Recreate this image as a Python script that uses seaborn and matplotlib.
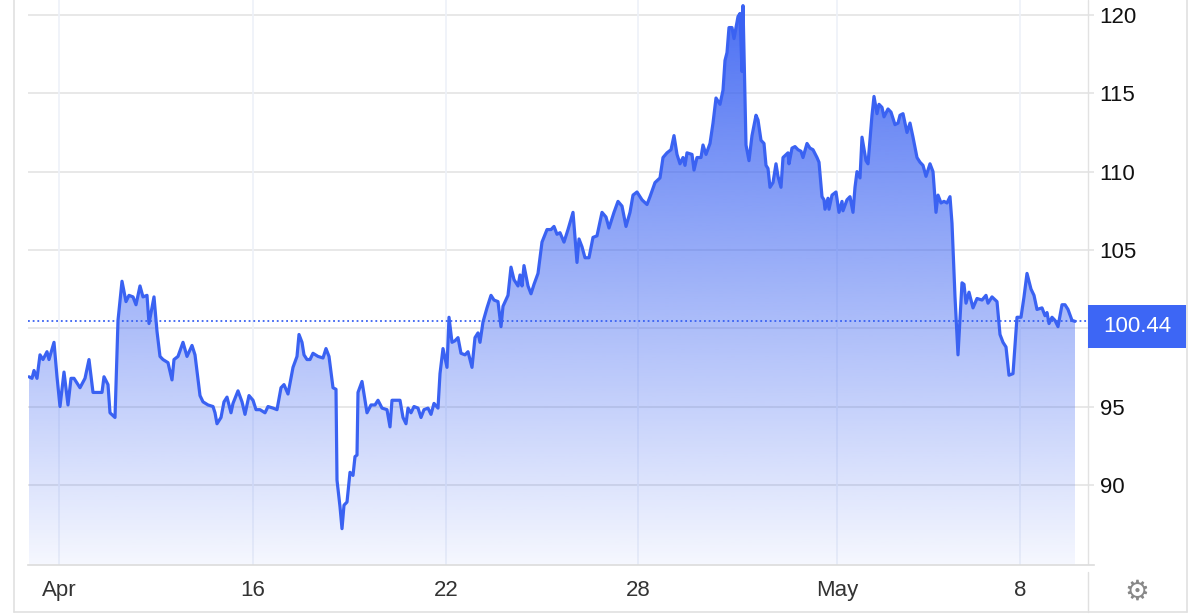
import numpy as np
import seaborn as sns
import matplotlib.pyplot as plt
from matplotlib.patches import Polygon, Rectangle
from matplotlib.lines import Line2D
from matplotlib.colors import to_rgb
import matplotlib.transforms as mtransforms

# hours of trading since the "Apr" tick, price level
hours = [
    -15, -13.5, -12.5, -11, -9.5, -8, -6, -5, -2.5, -1, 0.5, 2.5, 4.5, 6, 7.5,
    10.5, 13, 15, 17, 19.5, 21.5, 22.5, 24.5, 25.5, 28, 29.5, 31.5, 33.5, 35, 37,
    38.5, 40.5, 42, 44, 45, 47.5, 49, 50.5, 52, 54.5, 56.5, 57.5, 59.5, 62, 64,
    66.5, 68, 70.5,
    72, 74.5, 77, 78, 79, 81, 82.5, 84, 86, 87, 89.5, 91.5, 93, 95, 97,
    98.5, 100.5, 103, 104.5, 107, 109, 111, 112.5, 114.5, 117, 119, 120, 121.5, 122.5, 124,
    125.5, 127, 129.5, 132, 133.5, 135, 137, 138.5, 139, 140.5, 141.5, 142.5, 144, 145.5, 147,
    148, 149, 149.5, 151.5, 154, 156, 158,
    159.5, 161.5, 164, 165.5, 166.5, 169, 170.5, 172, 173.5, 174.5, 176, 177.5, 179.5, 181, 182.5,
    184.5, 186, 187.5, 189.5, 190.5, 192, 194, 195, 196.5, 198, 199.5, 201, 203, 204.5, 206.5,
    208, 209.5, 210.5, 212, 214, 216, 217.5, 219.5, 221, 222, 224.5, 226, 227.5, 229.5, 230.5,
    231.5, 232.5, 234.5, 236, 237.5, 239.5, 241.5, 244, 246,
    247.5, 249, 250.5, 252.5, 254.5, 257, 259, 260, 261.5, 263, 265, 267, 269, 271.5, 273.5,
    275, 277.5, 279.5, 281.5, 283.5, 285.5, 287, 289, 291.5, 294, 295.5, 298, 300.5, 302, 304,
    306, 307.5, 309, 310.5, 312, 313, 314, 316.5, 317.5, 319, 321, 322, 323.5, 325.5, 327,
    328.5, 330.5, 332,
    333, 334, 335, 336.5, 337.5, 339.5, 340.5, 341.5, 342, 343.5, 345, 346.5, 348.5, 349.5, 351,
    352.5, 353.5, 354.5, 355.5, 357, 358.5, 359.5, 361, 362, 364.5, 365, 366.5, 368, 369.5, 371,
    372, 374, 375.5, 377, 379, 380, 381.5, 382.5, 383, 384.5, 385, 386.5, 388.5, 390, 391.5,
    392, 394, 395.5, 397, 398, 399, 400.5, 401.5, 403.5, 404.5, 406.5, 407.5, 409, 410, 411.5,
    412.5, 414.5, 416, 418, 419.5,
    420.5, 422, 424, 425.5, 427, 429, 430.5, 432, 433.5, 435.5, 437, 438.5, 439.5, 441, 442.5,
    444, 445.5, 446.5, 448, 449.5, 451.5, 452.5, 453.5, 455, 457, 459, 461.5, 463.5, 464.5, 466.5,
    469, 470.5, 472, 473.5, 475, 477, 479, 481, 482.5, 484, 486, 487.5, 489, 491.5, 493,
    494, 495, 496.5, 498, 499.5, 501.5, 503, 504.5, 506.5, 508,
]
price = [
    96.9, 96.8, 97.3, 96.8, 98.3, 98.0, 98.5, 98.0, 99.1, 96.9, 95.0, 97.2, 95.1, 96.8, 96.8,
    96.2, 96.8, 98.0, 95.9, 95.9, 95.9, 96.9, 96.4, 94.6, 94.3, 100.5, 103.0, 101.7, 102.1, 102.0,
    101.5, 102.7, 102.0, 102.1, 100.3, 102.0, 99.8, 98.2, 98.0, 97.8, 96.7, 98.0, 98.2, 99.1, 98.2,
    98.9, 98.3, 95.7,
    95.3, 95.1, 95.0, 94.6, 93.9, 94.3, 95.3, 95.6, 94.6, 95.2, 96.0, 95.3, 94.5, 95.7, 95.4,
    94.8, 94.8, 94.6, 95.0, 94.9, 94.8, 96.2, 96.4, 95.8, 97.5, 98.2, 99.6, 99.1, 98.3, 98.0,
    98.0, 98.4, 98.2, 98.1, 98.7, 98.2, 96.2, 96.1, 90.3, 88.6, 87.2, 88.7, 88.9, 90.8, 90.6,
    91.8, 91.9, 95.9, 96.6, 94.6, 95.1, 95.1,
    95.4, 94.9, 94.8, 93.7, 95.4, 95.4, 95.4, 94.3, 93.9, 94.9, 94.6, 95.0, 94.9, 94.3, 94.8,
    94.9, 94.5, 95.2, 94.9, 97.1, 98.7, 97.5, 100.7, 99.1, 99.2, 99.4, 98.4, 98.3, 98.5, 97.5,
    99.4, 99.7, 99.1, 100.4, 101.3, 102.1, 101.8, 101.7, 100.1, 101.4, 102.1, 103.9, 103.1, 102.7, 103.4,
    102.7, 104.0, 102.7, 102.2, 102.8, 103.5, 105.5, 106.3, 106.3,
    106.5, 106.0, 106.1, 105.5, 106.3, 107.4, 104.2, 105.7, 105.2, 104.5, 104.5, 105.8, 105.9, 107.4, 107.1,
    106.4, 107.4, 108.1, 107.8, 106.5, 107.4, 108.5, 108.7, 108.2, 107.9, 108.4, 109.3, 109.6, 110.9, 111.2,
    111.4, 112.3, 111.1, 110.5, 110.9, 110.4, 111.2, 111.1, 110.1, 110.9, 110.9, 111.7, 111.1, 111.8, 113.1,
    114.7, 114.3, 115.2,
    117.1, 117.6, 119.2, 119.2, 118.5, 119.9, 120.1, 116.4, 120.6, 111.7, 110.7, 112.3, 113.6, 113.3, 112.0,
    111.8, 110.4, 110.2, 109.0, 109.3, 110.5, 109.7, 109.0, 110.9, 111.2, 110.5, 111.5, 111.6, 111.4, 111.3,
    110.9, 111.8, 111.5, 111.4, 110.9, 110.6, 108.4, 108.2, 107.6, 108.3, 107.6, 108.5, 108.7, 107.4, 108.1,
    107.5, 108.2, 108.4, 107.4, 109.0, 110.0, 109.6, 112.2, 110.7, 110.5, 113.6, 114.8, 113.7, 114.3, 114.1,
    113.5, 114.0, 113.8, 113.0, 113.1,
    113.6, 113.7, 112.5, 113.1, 112.2, 110.9, 110.6, 110.4, 109.7, 110.5, 110.0, 107.4, 108.5, 108.0, 108.1,
    108.0, 108.4, 106.7, 102.0, 98.3, 102.9, 102.8, 101.6, 102.3, 101.3, 101.9, 101.8, 102.1, 101.6, 102.0,
    101.7, 99.6, 99.1, 98.8, 97.0, 97.1, 100.7, 100.7, 102.0, 103.5, 102.5, 102.1, 101.2, 101.3, 100.8,
    101.0, 100.3, 100.7, 100.5, 100.1, 101.5, 101.5, 101.2, 100.5, 100.44,
]

tick_hours = [0, 97, 193.5, 289.5, 389, 480.5]
tick_labels = ["Apr", "16", "22", "28", "May", "8"]
y_ticks = [90, 95, 100, 105, 110, 115, 120]
last_price = 100.44

BLUE = "#3a62f2"

sns.set_theme(style="white")
plt.rcParams["font.family"] = ["Liberation Sans", "DejaVu Sans"]

fig = plt.figure(figsize=(12, 6.14), dpi=100)
ax = fig.add_axes([28 / 1200, 1 - 565 / 614, (1094 - 28) / 1200, 565 / 614])

x_min, x_max = -15.5, 517.5
y_min, y_max = 84.88, 120.96
ax.set_xlim(x_min, x_max)
ax.set_ylim(y_min, y_max)

# gradient fill under the line
verts = [(hours[0], y_min)] + list(zip(hours, price)) + [(hours[-1], y_min)]
clip = Polygon(verts, closed=True, facecolor="none", edgecolor="none")
ax.add_patch(clip)
n = 256
grad = np.zeros((n, 1, 4))
grad[:, 0, :3] = to_rgb(BLUE)
grad[:, 0, 3] = np.linspace(0.92, 0.05, n)
im = ax.imshow(grad, extent=[x_min, x_max, y_min, y_max], aspect="auto",
               origin="upper", zorder=1, interpolation="bilinear")
im.set_clip_path(clip)

sns.lineplot(x=hours, y=price, ax=ax, color=BLUE, linewidth=2.3,
             estimator=None, sort=False, zorder=3,
             solid_joinstyle="round", solid_capstyle="round")

# last price dotted line and label
ax.plot([x_min, 514.5], [last_price, last_price], color=BLUE, lw=1.3,
        linestyle=(0, (1, 1.6)), zorder=2)

# grid
for yt in y_ticks:
    ax.axhline(yt, color="#e4e4e4", lw=1.2, zorder=0)
for xt in tick_hours:
    ax.axvline(xt, color="#edf1f8", lw=1.2, zorder=0)
ax.axvline(514.5, color="#e2e2e2", lw=1.0, zorder=0)

ax.set_xticks(tick_hours)
ax.set_xticklabels(tick_labels)
ax.yaxis.tick_right()
ax.set_yticks(y_ticks)
ax.set_yticklabels([str(v) if v != 100 else "" for v in y_ticks])
ax.tick_params(axis="x", length=0, pad=11, labelsize=16, labelcolor="#333333")
ax.tick_params(axis="y", length=0, pad=4, labelsize=16, labelcolor="#111111")
for lab in ax.get_yticklabels():
    lab.set_horizontalalignment("left")

for side in ["top", "left", "right"]:
    ax.spines[side].set_visible(False)
ax.spines["bottom"].set_color("#dcdcdc")
ax.spines["bottom"].set_linewidth(1.2)
ax.set_xlabel("")
ax.set_ylabel("")

# price tag on the right axis
trans = mtransforms.blended_transform_factory(ax.transAxes, ax.transData)
ax.add_patch(Rectangle((0.9944, 98.74), 0.0919, 2.74, transform=trans,
                       facecolor="#3d66f5", edgecolor="none", clip_on=False, zorder=5))
ax.text(1.0404, 100.1, f"{last_price:.2f}", transform=trans, color="white",
        fontsize=16, ha="center", va="center", zorder=6, clip_on=False)

# widget frame
frame = "#e0e0e0"
fig.add_artist(Line2D([14 / 1200, 14 / 1200], [0.003, 1], color=frame, lw=1.2))
fig.add_artist(Line2D([14 / 1200, 1187 / 1200], [0.003, 0.003], color=frame, lw=1.2))
fig.add_artist(Line2D([1187 / 1200, 1187 / 1200], [0.003, 1], color=frame, lw=1.2))
fig.add_artist(Line2D([1088 / 1200, 1088 / 1200], [0.003, 1 - 572 / 614], color=frame, lw=1.0))

fig.text(1137 / 1200, 1 - 592 / 614, "\u2699", fontsize=20, color="#888888",
         ha="center", va="center", family="DejaVu Sans")

fig.savefig("out.png", dpi=100, facecolor="white")
